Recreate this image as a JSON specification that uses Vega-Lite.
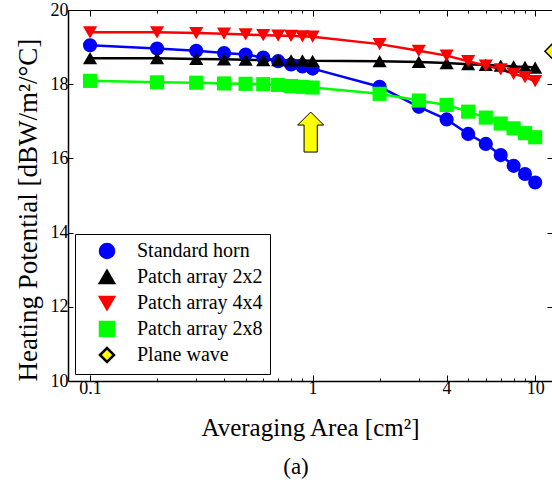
{
  "$schema": "https://vega.github.io/schema/vega-lite/v6.json",
  "autosize": "none",
  "width": 484,
  "height": 371,
  "padding": {"left": 68, "top": 10, "right": 0, "bottom": 111},
  "background": "white",
  "config": {
    "view": {"stroke": null},
    "font": "Liberation Serif",
    "legend": {"labelFont": "Liberation Serif", "labelFontSize": 20, "labelColor": "black"}
  },
  "title": {
    "text": "(a)",
    "orient": "bottom",
    "anchor": "middle",
    "frame": "group",
    "font": "Liberation Serif",
    "fontSize": 23,
    "fontWeight": "normal",
    "color": "black",
    "offset": 16,
    "dx": -14
  },
  "datasets": {
    "curves": [
      {"series": "Standard horn", "area": 0.1, "hp": 19.05},
      {"series": "Standard horn", "area": 0.2, "hp": 18.96},
      {"series": "Standard horn", "area": 0.3, "hp": 18.90},
      {"series": "Standard horn", "area": 0.4, "hp": 18.84},
      {"series": "Standard horn", "area": 0.5, "hp": 18.80},
      {"series": "Standard horn", "area": 0.6, "hp": 18.72},
      {"series": "Standard horn", "area": 0.7, "hp": 18.62},
      {"series": "Standard horn", "area": 0.8, "hp": 18.53},
      {"series": "Standard horn", "area": 0.9, "hp": 18.48},
      {"series": "Standard horn", "area": 1, "hp": 18.42},
      {"series": "Standard horn", "area": 2, "hp": 17.93},
      {"series": "Standard horn", "area": 3, "hp": 17.39},
      {"series": "Standard horn", "area": 4, "hp": 17.05},
      {"series": "Standard horn", "area": 5, "hp": 16.66},
      {"series": "Standard horn", "area": 6, "hp": 16.39},
      {"series": "Standard horn", "area": 7, "hp": 16.09},
      {"series": "Standard horn", "area": 8, "hp": 15.80},
      {"series": "Standard horn", "area": 9, "hp": 15.58},
      {"series": "Standard horn", "area": 10, "hp": 15.35},
      {"series": "Patch array 2x2", "area": 0.1, "hp": 18.70},
      {"series": "Patch array 2x2", "area": 0.2, "hp": 18.70},
      {"series": "Patch array 2x2", "area": 0.3, "hp": 18.68},
      {"series": "Patch array 2x2", "area": 0.4, "hp": 18.67},
      {"series": "Patch array 2x2", "area": 0.5, "hp": 18.66},
      {"series": "Patch array 2x2", "area": 0.6, "hp": 18.65},
      {"series": "Patch array 2x2", "area": 0.7, "hp": 18.65},
      {"series": "Patch array 2x2", "area": 0.8, "hp": 18.64},
      {"series": "Patch array 2x2", "area": 0.9, "hp": 18.64},
      {"series": "Patch array 2x2", "area": 1, "hp": 18.63},
      {"series": "Patch array 2x2", "area": 2, "hp": 18.62},
      {"series": "Patch array 2x2", "area": 3, "hp": 18.60},
      {"series": "Patch array 2x2", "area": 4, "hp": 18.57},
      {"series": "Patch array 2x2", "area": 5, "hp": 18.54},
      {"series": "Patch array 2x2", "area": 6, "hp": 18.52},
      {"series": "Patch array 2x2", "area": 7, "hp": 18.50},
      {"series": "Patch array 2x2", "area": 8, "hp": 18.48},
      {"series": "Patch array 2x2", "area": 9, "hp": 18.47},
      {"series": "Patch array 2x2", "area": 10, "hp": 18.45},
      {"series": "Patch array 4x4", "area": 0.1, "hp": 19.40},
      {"series": "Patch array 4x4", "area": 0.2, "hp": 19.40},
      {"series": "Patch array 4x4", "area": 0.3, "hp": 19.38},
      {"series": "Patch array 4x4", "area": 0.4, "hp": 19.36},
      {"series": "Patch array 4x4", "area": 0.5, "hp": 19.34},
      {"series": "Patch array 4x4", "area": 0.6, "hp": 19.32},
      {"series": "Patch array 4x4", "area": 0.7, "hp": 19.31},
      {"series": "Patch array 4x4", "area": 0.8, "hp": 19.30},
      {"series": "Patch array 4x4", "area": 0.9, "hp": 19.29},
      {"series": "Patch array 4x4", "area": 1, "hp": 19.28},
      {"series": "Patch array 4x4", "area": 2, "hp": 19.08},
      {"series": "Patch array 4x4", "area": 3, "hp": 18.90},
      {"series": "Patch array 4x4", "area": 4, "hp": 18.77},
      {"series": "Patch array 4x4", "area": 5, "hp": 18.62},
      {"series": "Patch array 4x4", "area": 6, "hp": 18.50},
      {"series": "Patch array 4x4", "area": 7, "hp": 18.40},
      {"series": "Patch array 4x4", "area": 8, "hp": 18.28},
      {"series": "Patch array 4x4", "area": 9, "hp": 18.19},
      {"series": "Patch array 4x4", "area": 10, "hp": 18.08},
      {"series": "Patch array 2x8", "area": 0.1, "hp": 18.09},
      {"series": "Patch array 2x8", "area": 0.2, "hp": 18.05},
      {"series": "Patch array 2x8", "area": 0.3, "hp": 18.04},
      {"series": "Patch array 2x8", "area": 0.4, "hp": 18.02},
      {"series": "Patch array 2x8", "area": 0.5, "hp": 18.01},
      {"series": "Patch array 2x8", "area": 0.6, "hp": 18.00},
      {"series": "Patch array 2x8", "area": 0.7, "hp": 17.98},
      {"series": "Patch array 2x8", "area": 0.8, "hp": 17.95},
      {"series": "Patch array 2x8", "area": 0.9, "hp": 17.93},
      {"series": "Patch array 2x8", "area": 1, "hp": 17.91},
      {"series": "Patch array 2x8", "area": 2, "hp": 17.74},
      {"series": "Patch array 2x8", "area": 3, "hp": 17.56},
      {"series": "Patch array 2x8", "area": 4, "hp": 17.44},
      {"series": "Patch array 2x8", "area": 5, "hp": 17.26},
      {"series": "Patch array 2x8", "area": 6, "hp": 17.10},
      {"series": "Patch array 2x8", "area": 7, "hp": 16.94},
      {"series": "Patch array 2x8", "area": 8, "hp": 16.81},
      {"series": "Patch array 2x8", "area": 9, "hp": 16.68},
      {"series": "Patch array 2x8", "area": 10, "hp": 16.57},
      {"series": "Plane wave", "area": 11.9, "hp": 18.89}
    ],
    "arrow": [
      {"area": 0.98, "hp": 16.71}
    ]
  },
  "data": {"name": "curves"},
  "layer": [
    {
      "transform": [{"filter": "datum.series !== 'Plane wave'"}],
      "mark": {"type": "line", "strokeWidth": 2.5},
      "encoding": {
        "x": {
          "field": "area", "type": "quantitative",
          "scale": {"type": "log", "domain": [0.0796, 11.9], "nice": false},
          "axis": {
            "orient": "bottom",
            "values": [0.1,0.2,0.3,0.4,0.5,0.6,0.7,0.8,0.9,1,2,3,4,5,6,7,8,9,10],
            "labelExpr": "indexof([0.1,1,4,10], datum.value) >= 0 ? format(datum.value, '~g') : ''",
            "grid": false,
            "domainColor": "black",
            "domainWidth": 1.5,
            "tickColor": "black",
            "tickSize": {"condition": {"test": "indexof([0.1,1,4,10], datum.value) >= 0", "value": -6}, "value": -3},
            "labelPadding": 4,
            "labelFont": "Liberation Serif",
            "labelFontSize": 18,
            "labelColor": "black",
            "labelFlush": false,
            "labelOverlap": false,
            "title": "Averaging Area [cm²]",
            "titleFont": "Liberation Serif",
            "titleFontSize": 25,
            "titleFontWeight": "normal",
            "titleColor": "black",
            "titlePadding": 15
          }
        },
        "y": {
          "field": "hp", "type": "quantitative",
          "scale": {"domain": [10, 20], "nice": false, "zero": false},
          "axis": {
            "orient": "left",
            "values": [10,12,14,16,18,20],
            "format": "d",
            "grid": false,
            "domainColor": "black",
            "domainWidth": 1.5,
            "tickColor": "black",
            "tickSize": -5,
            "labelPadding": 5,
            "labelFont": "Liberation Serif",
            "labelFontSize": 18,
            "labelColor": "black",
            "labelFlush": false,
            "title": "Heating Potential [dBW/m²/°C]",
            "titleFont": "Liberation Serif",
            "titleFontSize": 27,
            "titleFontWeight": "normal",
            "titleColor": "black",
            "titleAnchor": "start",
            "titlePadding": 8
          }
        },
        "stroke": {
          "field": "series", "type": "nominal",
          "scale": {
            "domain": ["Standard horn", "Patch array 2x2", "Patch array 4x4", "Patch array 2x8", "Plane wave"],
            "range": ["#0000ff", "#000000", "#ff0000", "#00ff00", "#000000"]
          },
          "legend": {
            "title": null,
            "orient": "bottom-left",
            "offset": 7,
            "padding": 7,
            "strokeColor": "black",
            "fillColor": "white",
            "labelFont": "Liberation Serif",
            "labelFontSize": 20,
            "labelColor": "black",
            "labelLimit": 300,
            "symbolSize": 196,
            "symbolOffset": 15,
            "labelOffset": 20,
            "rowPadding": 2,
            "symbolStrokeWidth": 2.5
          }
        }
      }
    },
    {
      "mark": {"type": "point", "filled": true, "size": 200, "opacity": 1, "stroke": "black"},
      "encoding": {
        "x": {
          "field": "area", "type": "quantitative",
          "axis": {
            "orient": "top",
            "values": [0.1,0.2,0.3,0.4,0.5,0.6,0.7,0.8,0.9,1,2,3,4,5,6,7,8,9,10],
            "labels": false,
            "grid": false,
            "title": null,
            "domainColor": "black",
            "domainWidth": 1.2,
            "tickColor": "black",
            "tickSize": {"condition": {"test": "indexof([0.1,1,4,10], datum.value) >= 0", "value": -6}, "value": -3}
          }
        },
        "y": {
          "field": "hp", "type": "quantitative",
          "axis": {
            "orient": "right",
            "values": [10,12,14,16,18,20],
            "labels": false,
            "grid": false,
            "title": null,
            "domain": false,
            "tickColor": "black",
            "tickSize": -5
          }
        },
        "strokeWidth": {"condition": {"test": "datum.series === 'Plane wave'", "value": 1.5}, "value": 0},
        "fill": {
          "field": "series", "type": "nominal",
          "scale": {
            "domain": ["Standard horn", "Patch array 2x2", "Patch array 4x4", "Patch array 2x8", "Plane wave"],
            "range": ["#0000ff", "#000000", "#ff0000", "#00ff00", "#ffff00"]
          },
          "legend": null
        },
        "shape": {
          "field": "series", "type": "nominal",
          "scale": {
            "domain": ["Standard horn", "Patch array 2x2", "Patch array 4x4", "Patch array 2x8", "Plane wave"],
            "range": ["circle", "triangle-up", "triangle-down", "square", "diamond"]
          },
          "legend": null
        }
      }
    },
    {
      "data": {"name": "arrow"},
      "mark": {
        "type": "point",
        "filled": true,
        "fill": "#ffff00",
        "stroke": "black",
        "strokeWidth": 1,
        "opacity": 1,
        "size": 1600,
        "shape": "M0,-1L0.65,-0.35L0.33,-0.35L0.33,1L-0.33,1L-0.33,-0.35L-0.65,-0.35Z"
      },
      "encoding": {
        "x": {"field": "area", "type": "quantitative", "axis": null},
        "y": {"field": "hp", "type": "quantitative", "axis": null}
      }
    }
  ],
  "resolve": {"axis": {"x": "independent", "y": "independent"}}
}
